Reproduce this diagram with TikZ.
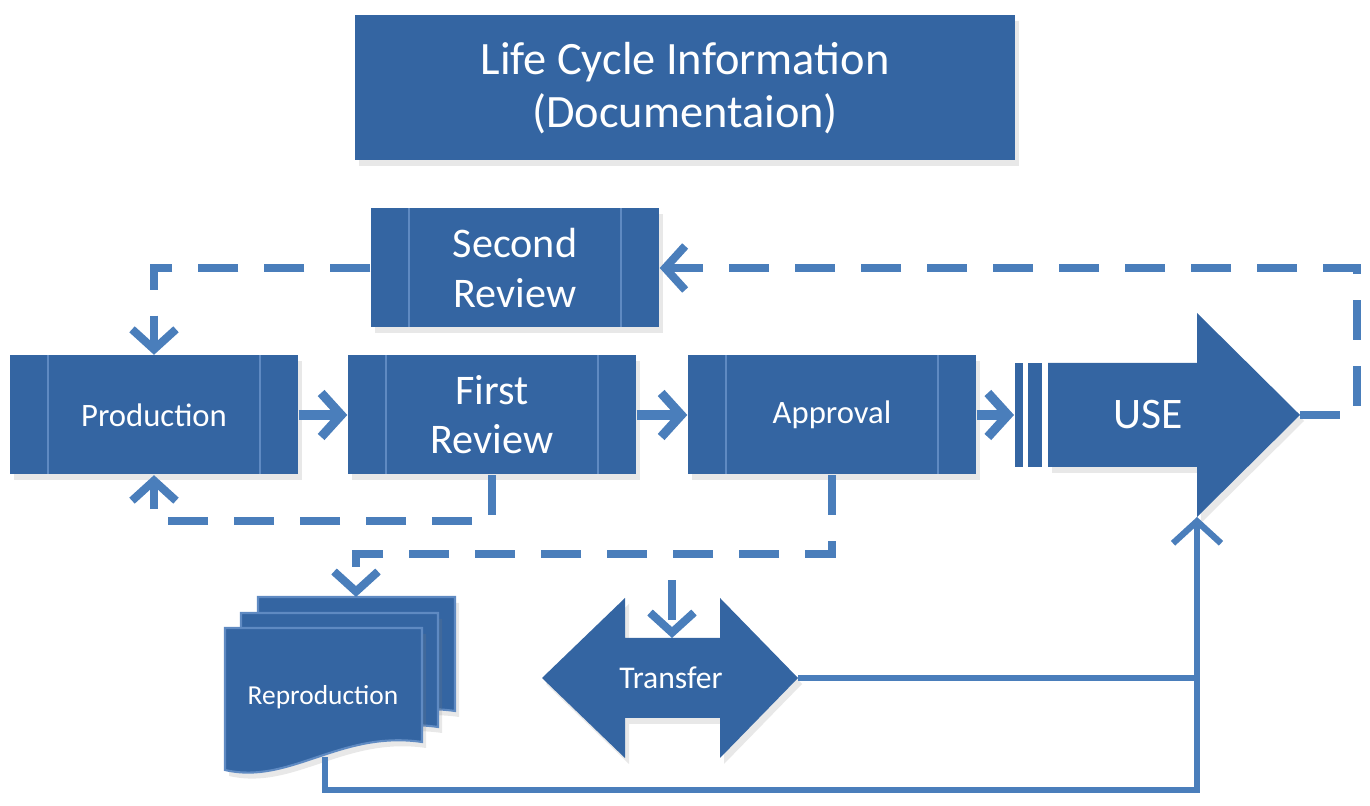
\documentclass[tikz,border=0pt]{standalone}
\usepackage{fontspec}
\setmainfont{Carlito}
\usetikzlibrary{arrows.meta, positioning, shadows, calc}
\definecolor{boxblue}{HTML}{3465A2}
\definecolor{lineblue}{HTML}{4A7EBB}
\definecolor{stripeblue}{HTML}{5F8AC2}

\tikzset{
  softshadow/.style={drop shadow={opacity=0.18, shadow xshift=0.4mm, shadow yshift=-0.6mm}},
  procbox/.style={fill=boxblue, softshadow, text=white, align=center,
    minimum width=28.8mm, minimum height=11.9mm, inner sep=0pt,
    path picture={
      \draw[stripeblue, line width=0.5pt]
        ([xshift=3.8mm]path picture bounding box.north west) -- ([xshift=3.8mm]path picture bounding box.south west)
        ([xshift=-3.8mm]path picture bounding box.north east) -- ([xshift=-3.8mm]path picture bounding box.south east);
    }},
  labeltext/.style={text=white, align=center, inner sep=0pt},
  flowarrow/.style={lineblue, line width=2.6pt, -{Straight Barb[length=2mm, width=4.4mm]}},
  loopback/.style={flowarrow, line width=2.3pt, dash pattern=on 4mm off 2.6mm},
  feedline/.style={lineblue, line width=1.8pt},
}

\begin{document}
\begin{tikzpicture}[x=0.1mm, y=-0.1mm]
    \useasboundingbox (0,0) rectangle (1370,806);

    % Title
    \node[fill=boxblue, softshadow, labeltext, minimum width=66mm, minimum height=14.5mm,
          font=\fontsize{13.2}{15.2}\selectfont] (title) at (685,88)
        {Life Cycle Information\\(Documentaion)};

    % Process boxes
    \node[procbox, font=\fontsize{12}{14}\selectfont] (second) at (515,268) {Second\\Review};
    \node[procbox, font=\fontsize{9.3}{11}\selectfont] (prod) at (154,415) {Production};
    \node[procbox, font=\fontsize{12}{14}\selectfont] (first) at (492,415) {First\\Review};
    \node[procbox, font=\fontsize{9.3}{11}\selectfont] (appr) at (832,415) {Approval};

    % USE arrow
    \fill[boxblue, softshadow] (1048,363) -- (1197,363) -- (1197,313) -- (1300,415)
        -- (1197,517) -- (1197,467) -- (1048,467) -- cycle;
    \fill[boxblue] (1015,363) rectangle (1023,467);
    \fill[boxblue] (1028,363) rectangle (1042,467);
    \node[labeltext, font=\fontsize{12.4}{14}\selectfont] (use) at (1148,415) {USE};
    \coordinate (usetail) at (1014,415);
    \coordinate (usetip) at (1300,415);
    \coordinate (usebot) at (1197,517);

    % Transfer double arrow
    \fill[boxblue, softshadow] (542,678) -- (625,598) -- (625,638) -- (720,638) -- (720,598)
        -- (798,678) -- (720,758) -- (720,718) -- (625,718) -- (625,758) -- cycle;
    \node[labeltext, font=\fontsize{9}{11}\selectfont] (transfer) at (671,678) {Transfer};
    \coordinate (trtop) at (672,638);
    \coordinate (trright) at (798,678);

    % Reproduction (multi-document)
    \foreach \dx/\dy/\bot in {33/-31/717, 16/-15/732, 0/0/742} {
      \filldraw[boxblue, draw=stripeblue, line width=0.6pt, softshadow, shift={(\dx,\dy)}]
        (225,628) -- (422,628) -- (422,742) .. controls (340,730) and (290,785) .. (225,770) -- cycle;
    }
    \node[labeltext, font=\fontsize{7.8}{9}\selectfont] (repro) at (323,697) {Reproduction};
    \coordinate (reprotop) at (356,597);
    \coordinate (reprobot) at (325,757);

    % Main flow
    \draw[flowarrow] (prod) -- (first);
    \draw[flowarrow] (first) -- (appr);
    \draw[flowarrow] (appr) -- (usetail);

    % Review loops
    \draw[loopback] (usetip) -- ++(57,0) |- (second);
    \draw[loopback] (second) -| (prod);
    \draw[loopback] (first.south) -- ++(0,46) -| (prod.south);
    \coordinate (fork) at ($(appr.south)+(0,79)$);
    \draw[loopback] (appr.south) -- (fork) -| (reprotop);
    \draw[loopback, dash phase=4mm] (fork -| trtop) -- (trtop);

    % Delivery to use
    \draw[feedline] (trright) -- (trright -| usebot);
    \draw[feedline, -{Straight Barb[length=2.2mm, width=4.8mm]}] (reprobot) -- ++(0,33) -| (usebot);
\end{tikzpicture}
\end{document}
